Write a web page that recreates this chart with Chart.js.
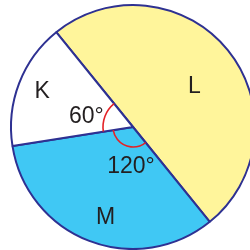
<!DOCTYPE html>
<html>
<head>
<meta charset="utf-8">
<script src="https://cdn.jsdelivr.net/npm/chart.js@4/dist/chart.umd.min.js"></script>
<style>
html,body{margin:0;padding:0;background:#fff;}
#c{display:block;}
</style>
</head>
<body>
<canvas id="c" width="250" height="250"></canvas>
<script>
// Data
const categories = ['L', 'M', 'K'];
const sliceDegrees = [180, 120, 60];
const angleLabels = ['', '120°', '60°'];

// Styles
const sliceColors = ['#FFF59B', '#40C8F4', '#FFFFFF'];
const borderColor = '#2E3192';
const textColor = '#231F20';
const arcColor = '#E42226';
// label placement: [clockwise angle from top (deg), distance from centre (px)]
const namePos = [[56, 74], [197, 94], [292, 98]];
const anglePos = [null, [183, 39], [284, 48]];
const markRadius = [0, 20, 30];

const labelPlugin = {
  id: 'labels',
  afterDatasetsDraw(chart) {
    const ctx = chart.ctx;
    const meta = chart.getDatasetMeta(0);
    const cx = meta.data[0].x, cy = meta.data[0].y;
    ctx.save();
    // angle marks
    ctx.strokeStyle = arcColor;
    ctx.lineWidth = 1.6;
    meta.data.forEach((arc, i) => {
      if (!markRadius[i]) return;
      ctx.beginPath();
      ctx.arc(cx, cy, markRadius[i], arc.startAngle, arc.endAngle);
      ctx.stroke();
    });
    ctx.fillStyle = textColor;
    ctx.textAlign = 'center';
    ctx.textBaseline = 'middle';
    ctx.font = '23px "Liberation Sans", Arial, sans-serif';
    const pt = (p) => {
      const a = p[0] * Math.PI / 180;
      return [cx + p[1] * Math.sin(a), cy - p[1] * Math.cos(a)];
    };
    categories.forEach((name, i) => {
      const [x, y] = pt(namePos[i]);
      ctx.fillText(name, x, y + 1);
      if (anglePos[i]) {
        const [ax, ay] = pt(anglePos[i]);
        ctx.fillText(angleLabels[i], ax, ay + 1);
      }
    });
    ctx.restore();
  }
};

new Chart(document.getElementById('c'), {
  type: 'pie',
  data: {
    labels: categories,
    datasets: [{
      data: sliceDegrees,
      backgroundColor: sliceColors,
      borderColor: borderColor,
      borderWidth: 2,
      hoverOffset: 0,
      clip: false
    }]
  },
  options: {
    responsive: false,
    animation: false,
    rotation: -39,
    radius: 122,
    layout: { padding: { left: 16, right: 0, top: 4, bottom: 0 } },
    events: [],
    plugins: { legend: { display: false }, tooltip: { enabled: false } }
  },
  plugins: [labelPlugin]
});
</script>
</body>
</html>
